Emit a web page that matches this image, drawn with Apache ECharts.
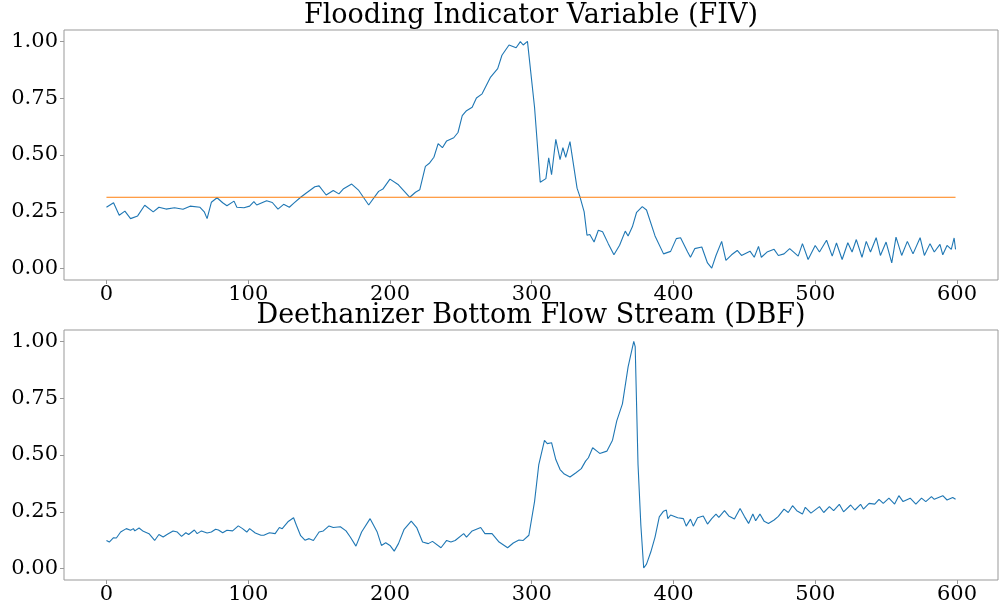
<!DOCTYPE html>
<html>
<head>
<meta charset="utf-8">
<script src="https://cdn.jsdelivr.net/npm/echarts@6/dist/echarts.min.js"></script>
<style>html,body{margin:0;padding:0;background:#fff}#c{width:1000px;height:606px}</style>
</head>
<body>
<div id="c"></div>
<script>
// ---- data ----
const fivX = [0,5,9,13,17,22,27,33,37,42,48,54,59,66,69,71,74,78,82,85,90,92,97,101,104,106,113,117,121,125,129,132,137,141,147,150,155,160,164,167,173,178,185,192,195,200,206,214,218,221,225,228,231,234,237,240,245,248,251,254,258,261,265,271,276,279,284,289,292,294,297,302,306,310,312,314,317,320,322,324,327,332,334,337,339,341,344,347,350,354,358,362,366,368,371,374,378,381,387,393,398,402,405,410,412,415,420,424,427,430,434,437,441,445,448,454,457,460,462,466,471,474,478,482,488,491,495,500,503,508,512,515,519,523,526,529,533,536,539,543,546,550,554,557,561,565,569,574,577,581,584,588,590,593,596,598,599];
const fivV = [0.27,0.29,0.235,0.253,0.22,0.232,0.279,0.25,0.27,0.262,0.268,0.261,0.275,0.27,0.25,0.22,0.292,0.312,0.29,0.277,0.297,0.27,0.268,0.275,0.295,0.28,0.299,0.291,0.262,0.283,0.27,0.287,0.314,0.333,0.36,0.364,0.324,0.344,0.329,0.35,0.372,0.344,0.28,0.34,0.35,0.394,0.369,0.314,0.336,0.347,0.45,0.465,0.49,0.55,0.532,0.562,0.576,0.599,0.673,0.695,0.71,0.751,0.769,0.843,0.88,0.939,0.984,0.972,0.999,0.984,1.0,0.71,0.38,0.396,0.488,0.413,0.569,0.48,0.532,0.49,0.559,0.354,0.317,0.25,0.147,0.15,0.117,0.169,0.162,0.11,0.061,0.103,0.165,0.144,0.184,0.248,0.273,0.258,0.144,0.065,0.076,0.132,0.136,0.073,0.05,0.088,0.095,0.025,0.002,0.058,0.12,0.036,0.061,0.08,0.058,0.077,0.05,0.098,0.05,0.073,0.085,0.058,0.065,0.088,0.055,0.11,0.04,0.102,0.073,0.125,0.055,0.113,0.04,0.114,0.073,0.128,0.05,0.12,0.073,0.136,0.058,0.117,0.025,0.139,0.058,0.12,0.065,0.136,0.058,0.11,0.073,0.107,0.061,0.102,0.085,0.135,0.085];
const fivThreshold = 0.314;
const thresholdX = [0, 599];

const dbfX = [0,2,5,7,10,14,17,19,20,23,26,30,34,37,40,43,44,47,50,53,56,58,62,64,67,71,74,77,79,82,85,89,93,96,99,101,105,109,111,115,119,122,124,128,132,134,137,140,143,146,150,153,157,160,165,169,172,176,180,186,191,194,197,200,203,206,210,215,219,223,227,230,236,240,243,246,252,254,258,264,267,272,277,283,287,291,294,298,302,305,309,311,314,317,320,323,327,331,335,338,340,343,346,348,353,357,360,364,368,372,373,375,377,379,381,384,387,390,393,395,396,398,403,407,409,412,414,417,421,424,427,430,432,436,439,443,447,450,453,456,458,461,464,467,471,474,478,481,484,487,491,493,497,503,506,510,513,517,520,525,528,532,534,538,542,545,548,552,556,559,562,567,571,575,578,582,584,590,593,597,599];
const dbfV = [0.124,0.117,0.136,0.135,0.161,0.176,0.169,0.176,0.166,0.179,0.164,0.154,0.124,0.15,0.139,0.151,0.144,0.166,0.161,0.142,0.158,0.15,0.17,0.154,0.166,0.157,0.161,0.173,0.17,0.158,0.169,0.166,0.188,0.176,0.161,0.176,0.157,0.147,0.147,0.158,0.154,0.181,0.176,0.206,0.224,0.191,0.145,0.125,0.132,0.124,0.161,0.166,0.188,0.181,0.184,0.166,0.139,0.099,0.161,0.22,0.161,0.102,0.114,0.102,0.077,0.11,0.173,0.209,0.179,0.117,0.11,0.12,0.092,0.124,0.117,0.124,0.154,0.139,0.166,0.181,0.154,0.154,0.117,0.092,0.113,0.126,0.124,0.147,0.295,0.458,0.564,0.55,0.554,0.48,0.436,0.416,0.403,0.421,0.44,0.473,0.488,0.532,0.517,0.507,0.517,0.565,0.65,0.725,0.888,1.0,0.977,0.458,0.191,0.003,0.02,0.073,0.139,0.228,0.253,0.258,0.22,0.236,0.224,0.22,0.187,0.218,0.187,0.224,0.232,0.196,0.22,0.24,0.226,0.255,0.232,0.218,0.265,0.23,0.199,0.24,0.211,0.24,0.208,0.199,0.214,0.23,0.262,0.247,0.277,0.255,0.24,0.27,0.244,0.273,0.247,0.273,0.255,0.283,0.25,0.28,0.258,0.283,0.262,0.287,0.284,0.305,0.287,0.31,0.284,0.321,0.295,0.31,0.284,0.31,0.295,0.317,0.305,0.321,0.302,0.313,0.305];

const xTicks = [0,100,200,300,400,500,600];
const yTicks = [0,0.25,0.5,0.75,1.0];
const titles = ['Flooding Indicator Variable (FIV)', 'Deethanizer Bottom Flow Stream (DBF)'];

// ---- chart ----
const FONT = '"DejaVu Serif", serif';
const zip = (xs, vs) => xs.map((x, i) => [x, vs[i]]);

function xAxisFor(gi) {
  return {
    type: 'value', gridIndex: gi, min: -29.95, max: 628.95, position: 'bottom',
    axisLine: { show: false, onZero: false },
    splitLine: { show: false },
    axisTick: { show: true, length: 4, lineStyle: { color: '#999' }, customValues: xTicks },
    axisLabel: { fontFamily: FONT, fontSize: 21, color: '#000', margin: 4, customValues: xTicks,
                 formatter: v => String(v) }
  };
}
function yAxisFor(gi) {
  return {
    type: 'value', gridIndex: gi, min: -0.05, max: 1.05, position: 'left',
    axisLine: { show: false, onZero: false },
    splitLine: { show: false },
    axisTick: { show: true, length: 4, lineStyle: { color: '#999' }, customValues: yTicks },
    axisLabel: { fontFamily: FONT, fontSize: 21, color: '#000', margin: 6, customValues: yTicks,
                 formatter: v => v.toFixed(2) }
  };
}

const chart = echarts.init(document.getElementById('c'), null, { renderer: 'canvas' });
chart.setOption({
  animation: false,
  backgroundColor: '#fff',
  graphic: [
    { type: 'text', x: 531, y: 16, style: { text: titles[0], font: '27px ' + FONT, fill: '#000', textAlign: 'center', textVerticalAlign: 'middle' } },
    { type: 'text', x: 531, y: 316, style: { text: titles[1], font: '27px ' + FONT, fill: '#000', textAlign: 'center', textVerticalAlign: 'middle' } }
  ],
  grid: [
    { left: 64, top: 30, width: 934, height: 250, show: true, borderColor: '#999', borderWidth: 1, backgroundColor: 'transparent' },
    { left: 64, top: 330, width: 934, height: 250, show: true, borderColor: '#999', borderWidth: 1, backgroundColor: 'transparent' }
  ],
  xAxis: [xAxisFor(0), xAxisFor(1)],
  yAxis: [yAxisFor(0), yAxisFor(1)],
  series: [
    { type: 'line', xAxisIndex: 0, yAxisIndex: 0, data: zip(fivX, fivV), showSymbol: false, symbol: 'none',
      lineStyle: { color: '#1f77b4', width: 1.1 } },
    { type: 'line', xAxisIndex: 0, yAxisIndex: 0, data: thresholdX.map(x => [x, fivThreshold]), showSymbol: false, symbol: 'none',
      lineStyle: { color: '#ff7f0e', width: 1 } },
    { type: 'line', xAxisIndex: 1, yAxisIndex: 1, data: zip(dbfX, dbfV), showSymbol: false, symbol: 'none',
      lineStyle: { color: '#1f77b4', width: 1.1 } }
  ]
});
</script>
</body>
</html>
